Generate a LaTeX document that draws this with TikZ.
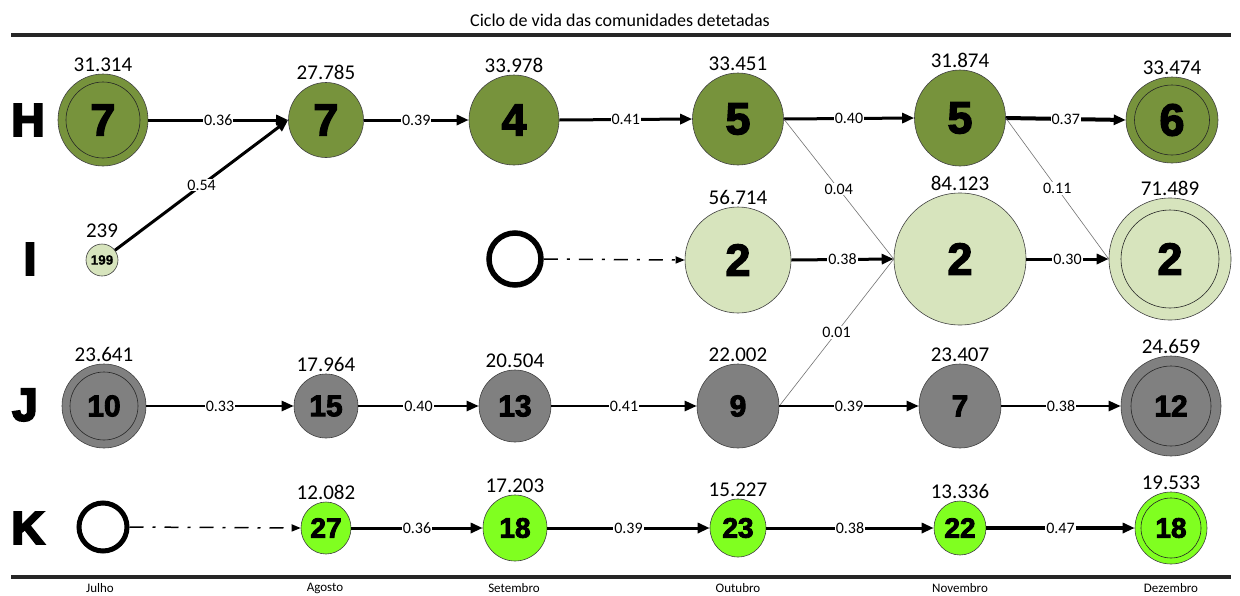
\documentclass[tikz,border=0pt]{standalone}
\usepackage{fontspec}
\setmainfont{Carlito}
\newfontfamily\heavy{Liberation Sans}[BoldFeatures={FakeBold=3}]
\newfontfamily\heavier{Liberation Sans}[BoldFeatures={FakeBold=4.5}]
\newfontfamily\heavylight{Liberation Sans}[BoldFeatures={FakeBold=0.8}]
\usetikzlibrary{shapes.geometric,arrows.meta}
\newcommand\fsz[1]{\fontsize{#1}{#1}\selectfont}
\definecolor{olivegrp}{RGB}{119,147,60}
\definecolor{palegrp}{RGB}{215,228,189}
\definecolor{graygrp}{RGB}{128,128,128}
\definecolor{limegrp}{RGB}{128,255,32}

\begin{document}
\begin{tikzpicture}[x=1pt,y=-1pt,
  label distance=2pt,
  comm/.style={ellipse, draw=black!75, line width=0.6pt, inner sep=0pt},
  rad/.style 2 args={minimum width={2*#1}, minimum height={2*#2}},
  hnode/.style={comm, fill=olivegrp, font=\heavy\bfseries\fsz{45}},
  inode/.style={comm, fill=palegrp, font=\heavy\bfseries\fsz{45}},
  jnode/.style={comm, fill=graygrp, font=\heavy\bfseries\fsz{30}},
  knode/.style={comm, fill=limegrp, font=\heavy\bfseries\fsz{28}},
  every label/.style={font=\fsz{21}, inner sep=0pt},
  inner/.style={draw=black!85, line width=0.6pt},
  empty/.style={circle, draw=black, line width=5.5pt, fill=white, inner sep=0pt},
  rowname/.style={font=\heavier\bfseries\fsz{46}, inner sep=0pt},
  month/.style={font=\fsz{13}, inner sep=0pt},
  flow/.style={line width=3pt, -{Triangle[length=12pt,width=10pt]}},
  flowthick/.style={line width=4pt, -{Triangle[length=12pt,width=10pt]}},
  flowj/.style={line width=2.5pt, -{Triangle[length=12pt,width=10pt]}},
  split/.style={draw=black!55, line width=0.6pt},
  birth/.style={line width=1.5pt, dash pattern=on 14pt off 9pt on 3pt off 9pt,
    -{Triangle[length=9pt,width=7pt]}},
  elab/.style={fill=white, inner sep=1pt, font=\fsz{16}},
  rule/.style={line width=4pt, draw=black!85}
]
\useasboundingbox[fill=white] (0,0) rectangle (1240,595);

% title and frame rules
\node[font=\fsz{18}] (title) at (620,20) {Ciclo de vida das comunidades detetadas};
\draw[rule] (11,35) -- (1231,35);
\draw[rule] (11,577) -- (1231,577);

% months
\node[month] (m1) at (100,588) {Julho};
\node[month] (m2) at (325,588) {Agosto};
\node[month] (m3) at (514,588) {Setembro};
\node[month] (m4) at (738,588) {Outubro};
\node[month] (m5) at (960,588) {Novembro};
\node[month] (m6) at (1171,588) {Dezembro};

% row names
\node[rowname] (rH) at (28,120) {H};
\node[rowname] (rI) at (30,259) {I};
\node[rowname] (rJ) at (25,405) {J};
\node[rowname] (rK) at (28,528) {K};

% community H
\node[hnode, rad={45}{46}, label=above:31.314] (H1) at (103,120) {};
\draw[inner] (H1.center) ellipse [x radius=37, y radius=38];
\node[font=\heavy\bfseries\fsz{45}] at (H1.center) {7};
\node[hnode, rad={37.5}{37.5}, label=above:27.785] (H2) at (326,120) {7};
\node[hnode, rad={45}{45}, label=above:33.978] (H3) at (514,120) {4};
\node[hnode, rad={45.5}{46}, label=above:33.451] (H4) at (738,119) {5};
\node[hnode, rad={45.5}{48}, label=above:31.874] (H5) at (960,118) {5};
\node[hnode, rad={46}{43}, label=above:33.474] (H6) at (1172,120) {};
\draw[inner] (H6.center) ellipse [x radius=37.5, y radius=35];
\node[font=\heavy\bfseries\fsz{45}] at (H6.center) {6};

% community I
\node[inode, rad={16}{16}, font=\heavylight\bfseries\fsz{13.5},
  label={[label distance=6pt]above:239}] (I1) at (102,260) {199};
\node[empty, minimum size=52pt] (I0) at (515,259) {};
\node[inode, rad={53}{53}, label=above:56.714] (I2) at (738,260) {2};
\node[inode, rad={66}{66}, label=above:84.123] (I3) at (960,259) {2};
\node[inode, rad={61}{61}, label=above:71.489] (I4) at (1170,259) {};
\draw[inner] (I4.center) ellipse [x radius=49, y radius=49];
\node[font=\heavy\bfseries\fsz{45}] at (I4.center) {2};

% community J
\node[jnode, rad={42}{42}, label=above:23.641] (J1) at (104,406) {};
\draw[inner] (J1.center) ellipse [x radius=34, y radius=34];
\node[font=\heavy\bfseries\fsz{30}] at (J1.center) {10};
\node[jnode, rad={32}{32}, label=above:17.964] (J2) at (326,406) {15};
\node[jnode, rad={36}{36}, label=above:20.504] (J3) at (515,406) {13};
\node[jnode, rad={41}{42}, label=above:22.002] (J4) at (738,406) {9};
\node[jnode, rad={41}{42}, label=above:23.407] (J5) at (960,406) {7};
\node[jnode, rad={50}{50}, label=above:24.659] (J6) at (1171,406) {};
\draw[inner] (J6.center) ellipse [x radius=40, y radius=40];
\node[font=\heavy\bfseries\fsz{30}] at (J6.center) {12};

% community K
\node[empty, minimum size=48pt, line width=5pt] (K1) at (103,527) {};
\node[knode, rad={25}{26}, label=above:12.082] (K2) at (326,528) {27};
\node[knode, rad={32}{33}, label=above:17.203] (K3) at (515,528) {18};
\node[knode, rad={28}{29}, label=above:15.227] (K4) at (738,528) {23};
\node[knode, rad={26}{27}, label=above:13.336] (K5) at (960,528) {22};
\node[knode, rad={36}{36}, label=above:19.533] (K6) at (1171,528) {};
\draw[inner] (K6.center) ellipse [x radius=30, y radius=30];
\node[font=\heavy\bfseries\fsz{28}] at (K6.center) {18};

% transitions of H
\draw[flow] (H1.east) -- node[elab]{0.36} (H2.west);
\draw[flow] (I1) -- node[elab]{0.54} (H2.west);
\draw[flow] (H2.east) -- node[elab]{0.39} (H3.west);
\draw[flow] (H3.east) -- node[elab]{0.41} (H4.west);
\draw[flow] (H4.east) -- node[elab]{0.40} (H5.west);
\draw[flowthick] (H5.east) -- node[elab]{0.37} (H6.west);

% weak links into I
\draw[split] (H4.east) -- node[elab]{0.04} (I3.west);
\draw[split] (H5.east) -- node[elab]{0.11} (I4.west);
\draw[split] (J4.east) -- node[elab]{0.01} (I3.west);

% transitions of I
\draw[birth] (I0.east) -- (I2.west);
\draw[flow] (I2.east) -- node[elab]{0.38} (I3.west);
\draw[flow] (I3.east) -- node[elab]{0.30} (I4.west);

% transitions of J
\draw[flowj] (J1.east) -- node[elab]{0.33} (J2.west);
\draw[flowj] (J2.east) -- node[elab]{0.40} (J3.west);
\draw[flowj] (J3.east) -- node[elab]{0.41} (J4.west);
\draw[flowj] (J4.east) -- node[elab]{0.39} (J5.west);
\draw[flowj] (J5.east) -- node[elab]{0.38} (J6.west);

% transitions of K
\draw[birth] (K1.east) -- (K2.west);
\draw[flow] (K2.east) -- node[elab]{0.36} (K3.west);
\draw[flow] (K3.east) -- node[elab]{0.39} (K4.west);
\draw[flow] (K4.east) -- node[elab]{0.38} (K5.west);
\draw[flowthick] (K5.east) -- node[elab]{0.47} (K6.west);
\end{tikzpicture}
\end{document}
